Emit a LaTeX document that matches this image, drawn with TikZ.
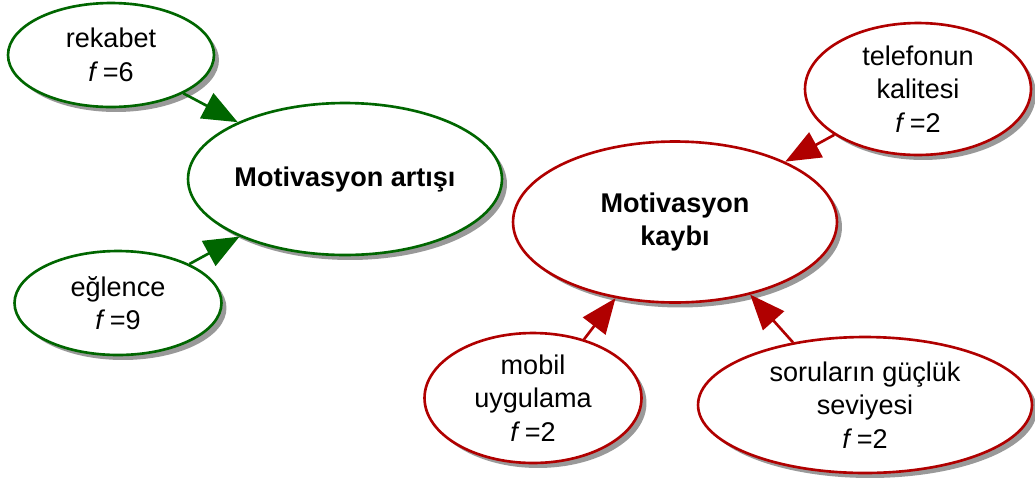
\documentclass[tikz,border=0pt]{standalone}
\usepackage{fontspec}
\setmainfont{Liberation Sans}
\usetikzlibrary{arrows.meta, shapes.geometric, shadows}
\definecolor{pgreen}{RGB}{0,102,0}
\definecolor{nred}{RGB}{176,0,0}
\begin{document}
\begin{tikzpicture}[x=0.02cm, y=-0.02cm, >={Triangle[length=20pt, width=16pt]},
  font=\fontsize{15.4}{19}\selectfont,
  e/.style={ellipse, draw, line width=1.5pt, fill=white, align=center, inner sep=0pt,
    drop shadow={shadow xshift=0.1cm, shadow yshift=-0.1cm, fill=black!40, opacity=1}},
  plus/.style={e, draw=pgreen}, minus/.style={e, draw=nred},
  pl/.style={->, draw=pgreen, fill=pgreen, line width=1.5pt},
  nl/.style={->, draw=nred, fill=nred, line width=1.5pt}]
\useasboundingbox (0,0) rectangle (1035,481);
\node[plus, minimum width=4.12cm, minimum height=2.08cm] (rek) at (111,55) {rekabet\\\textit{f}\,=6};
\node[plus, minimum width=6.28cm, minimum height=3.04cm] (art) at (345,179) {\textbf{Motivasyon artışı}};
\node[plus, minimum width=4.14cm, minimum height=2.08cm] (egl) at (118,303) {eğlence\\\textit{f}\,=9};
\node[minus, minimum width=6.48cm, minimum height=3.22cm] (kay) at (675,222) {\textbf{Motivasyon}\\\textbf{kaybı}};
\node[minus, minimum width=4.52cm, minimum height=2.64cm] (tel) at (918,89) {telefonun\\kalitesi\\\textit{f}\,=2};
\node[minus, minimum width=4.34cm, minimum height=2.6cm] (mob) at (533,398) {mobil\\uygulama\\\textit{f}\,=2};
\node[minus, minimum width=6.68cm, minimum height=2.72cm] (sor) at (865,405) {soruların güçlük\\seviyesi\\\textit{f}\,=2};
\draw[pl] (rek) -- (art);
\draw[pl] (egl) -- (art);
\draw[nl] (tel) -- (kay);
\draw[nl] (mob.49) -- (kay.232);
\draw[nl] (sor.139) -- (kay.316);
\end{tikzpicture}
\end{document}
